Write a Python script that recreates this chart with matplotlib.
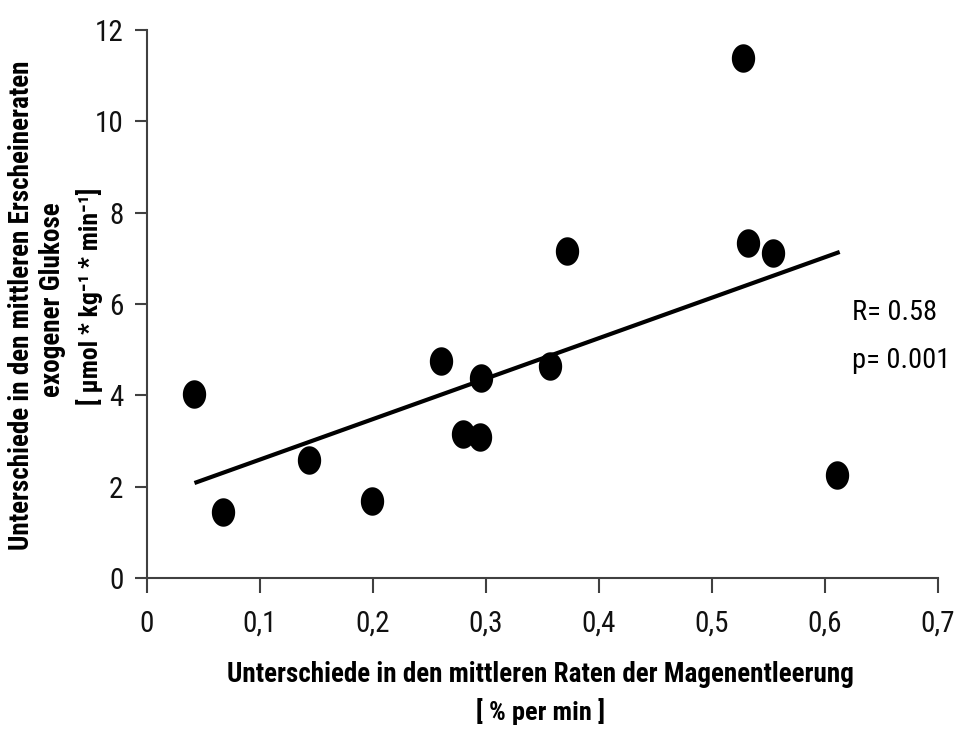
import numpy as np
import matplotlib
matplotlib.use("Agg")
import matplotlib.pyplot as plt
from matplotlib.path import Path

plt.rcParams['font.family'] = ['Roboto Condensed', 'PT Sans Narrow', 'DejaVu Sans']

# Data
x_rate = [0.042, 0.067, 0.143, 0.199, 0.260, 0.280, 0.295, 0.296, 0.357, 0.372, 0.527, 0.532, 0.554, 0.611]
y_glucose = [4.03, 1.45, 2.58, 1.69, 4.75, 3.15, 3.09, 4.38, 4.64, 7.16, 11.39, 7.34, 7.12, 2.26]

trend_x = [0.042, 0.613]
trend_y = [2.08, 7.14]

xticks = [0, 0.1, 0.2, 0.3, 0.4, 0.5, 0.6, 0.7]
xtick_labels = ['0', '0,1', '0,2', '0,3', '0,4', '0,5', '0,6', '0,7']
yticks = [0, 2, 4, 6, 8, 10, 12]
ytick_labels = ['0', '2', '4', '6', '8', '10', '12']

fig = plt.figure(figsize=(9.6, 7.29), dpi=100)
ax = fig.add_axes([147/960, 1-578/729, (938-147)/960, (578-30)/729])

# Slightly tall ellipse marker
t = np.linspace(0, 2*np.pi, 60)
ell = Path(np.column_stack([0.82*np.cos(t), np.sin(t)]), closed=True)

ax.plot(trend_x, trend_y, color='black', lw=3, solid_capstyle='butt', zorder=2)
ax.scatter(x_rate, y_glucose, marker=ell, s=420, color='black', zorder=3, linewidths=0)

ax.set_xlim(0, 0.7)
ax.set_ylim(0, 12)
ax.set_xticks(xticks)
ax.set_xticklabels(xtick_labels)
ax.set_yticks(yticks)
ax.set_yticklabels(ytick_labels)

for s in ['top', 'right']:
    ax.spines[s].set_visible(False)
for s in ['left', 'bottom']:
    ax.spines[s].set_color('#404040')
    ax.spines[s].set_linewidth(1.5)
ax.tick_params(axis='both', direction='out', color='#404040', width=1.5, labelsize=21, labelcolor='#111111')
ax.tick_params(axis='x', length=11, pad=12)
ax.tick_params(axis='y', length=9, pad=8)

lw = 600
fig.text(540/960, 1-674/729, 'Unterschiede in den mittleren Raten der Magenentleerung',
         ha='center', va='center', fontsize=19.5, fontweight=lw)
fig.text(540/960, 1-712/729, '[ % per min ]',
         ha='center', va='center', fontsize=19, fontweight=lw)

fig.text(22/960, 1-305/729, 'Unterschiede in den mittleren Erscheineraten',
         ha='center', va='center', rotation=90, fontsize=19.5, fontweight=lw)
fig.text(53/960, 1-300/729, 'exogener Glukose',
         ha='center', va='center', rotation=90, fontsize=19.5, fontweight=lw)
fig.text(90/960, 1-296/729, '[ µmol * kg⁻¹ * min⁻¹]',
         ha='center', va='center', rotation=90, fontsize=18.5, fontweight=lw)

fig.text(852/960, 1-313/729, 'R= 0.58', ha='left', va='center', fontsize=20.5)
fig.text(852/960, 1-360/729, 'p= 0.001', ha='left', va='center', fontsize=20.5)

fig.savefig('out.png', dpi=100)
